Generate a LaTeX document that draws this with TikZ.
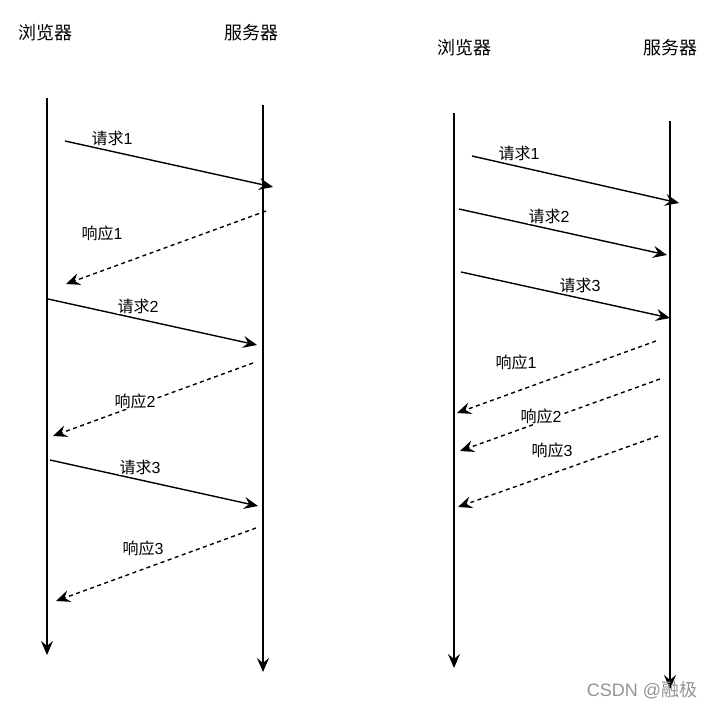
\documentclass[tikz,border=0pt]{standalone}
\usepackage{fontspec}
\setmainfont{Liberation Sans}
\newfontfamily\cjk{Noto Sans CJK SC}
\usetikzlibrary{arrows.meta}
\begin{document}
\begin{tikzpicture}[x=1pt,y=-1pt,
  head/.style={font=\cjk\fontsize{18}{21}\selectfont, inner sep=0pt},
  lbl/.style={font=\fontsize{16}{19}\selectfont, fill=white, inner sep=0.5pt},
  tip/.style={-{Stealth[length=14pt,width=12pt,inset=5pt]}},
  life/.style={line width=1.4pt, tip},
  req/.style={line width=1.4pt, tip},
  resp/.style={line width=1.4pt, dash pattern=on 4pt off 3.5pt, tip},
  wm/.style={font=\fontsize{18}{21}\selectfont, text=black!42, inner sep=0pt}]
\useasboundingbox (0,0) rectangle (713,709);
% ---------- left diagram ----------
\node[head] (hb1) at (45,33) {浏览器};
\node[head] (hs1) at (251,33) {服务器};
\coordinate (lb1s) at (47,98);  \coordinate (lb1e) at (47,655);
\coordinate (ls1s) at (263,105); \coordinate (ls1e) at (263,672);
\draw[life] (lb1s) -- (lb1e);
\draw[life] (ls1s) -- (ls1e);
% request 1
\coordinate (aq1s) at (65,141);  \coordinate (aq1e) at (273,187);
\draw[req] (aq1s) -- (aq1e);
\node[lbl] (aq1l) at (112,138) {{\cjk 请求}1};
% response 1
\coordinate (ar1s) at (266,211); \coordinate (ar1e) at (66,284);
\draw[resp] (ar1s) -- (ar1e);
\node[lbl] (ar1l) at (102,233) {{\cjk 响应}1};
% request 2
\coordinate (aq2s) at (48,299);  \coordinate (aq2e) at (257,345);
\draw[req] (aq2s) -- (aq2e);
\node[lbl] (aq2l) at (138,306) {{\cjk 请求}2};
% response 2
\coordinate (ar2s) at (253,363); \coordinate (ar2e) at (53,436);
\draw[resp] (ar2s) -- (ar2e);
\node[lbl] (ar2l) at (135,401) {{\cjk 响应}2};
% request 3
\coordinate (aq3s) at (50,460);  \coordinate (aq3e) at (258,506);
\draw[req] (aq3s) -- (aq3e);
\node[lbl] (aq3l) at (140,467) {{\cjk 请求}3};
% response 3
\coordinate (ar3s) at (256,528); \coordinate (ar3e) at (56,601);
\draw[resp] (ar3s) -- (ar3e);
\node[lbl] (ar3l) at (143,548) {{\cjk 响应}3};
% ---------- right diagram ----------
\node[head] (hb2) at (464,48) {浏览器};
\node[head] (hs2) at (670,48) {服务器};
\coordinate (lb2s) at (454,113); \coordinate (lb2e) at (454,668);
\coordinate (ls2s) at (670,121); \coordinate (ls2e) at (670,689);
\draw[life] (lb2s) -- (lb2e);
\draw[life] (ls2s) -- (ls2e);
% requests
\coordinate (bq1s) at (472,156); \coordinate (bq1e) at (679,203);
\draw[req] (bq1s) -- (bq1e);
\node[lbl] (bq1l) at (519,153) {{\cjk 请求}1};
\coordinate (bq2s) at (459,209); \coordinate (bq2e) at (667,255);
\draw[req] (bq2s) -- (bq2e);
\node[lbl] (bq2l) at (549,216) {{\cjk 请求}2};
\coordinate (bq3s) at (461,272); \coordinate (bq3e) at (670,318);
\draw[req] (bq3s) -- (bq3e);
\node[lbl] (bq3l) at (580,285) {{\cjk 请求}3};
% responses
\coordinate (br1s) at (656,341); \coordinate (br1e) at (457,413);
\draw[resp] (br1s) -- (br1e);
\node[lbl] (br1l) at (516,362) {{\cjk 响应}1};
\coordinate (br2s) at (660,379); \coordinate (br2e) at (460,451);
\draw[resp] (br2s) -- (br2e);
\node[lbl] (br2l) at (541,416) {{\cjk 响应}2};
\coordinate (br3s) at (658,436); \coordinate (br3e) at (458,507);
\draw[resp] (br3s) -- (br3e);
\node[lbl] (br3l) at (552,450) {{\cjk 响应}3};
% watermark
\node[wm] (wmk) at (642,690) {CSDN @{\cjk 融极}};
\end{tikzpicture}
\end{document}
